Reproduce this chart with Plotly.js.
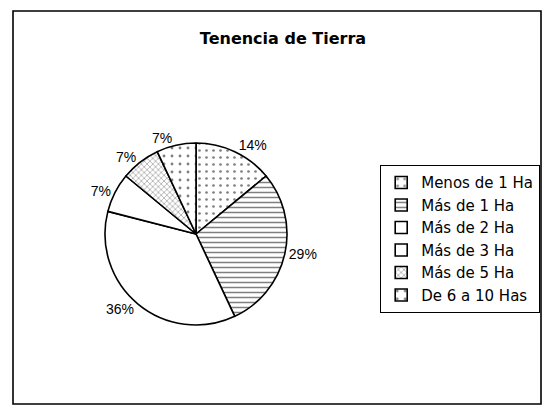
<!DOCTYPE html>
<html>
<head>
<meta charset="utf-8">
<script src="https://cdn.plot.ly/plotly-3.0.1.min.js"></script>
<style>html,body{margin:0;padding:0;background:#fff;}#chart{width:543px;height:406px;}</style>
</head>
<body>
<div id="chart"></div>
<script>
const categories = ["Menos de 1 Ha", "Más de 1 Ha", "Más de 2 Ha", "Más de 3 Ha", "Más de 5 Ha", "De 6 a 10 Has"];
const percentages = [14, 29, 36, 7, 7, 7];
const titleText = "Tenencia de Tierra";

const patternShapes = [".", "-", "", "", "x", "."];
const patternSizes = [7, 5, 8, 8, 4, 8];
const patternSolidity = [0.12, 0.3, 0.2, 0.2, 0.25, 0.1];

const W = 543, H = 406;
const cx = 196, cy = 234, r = 91;

const trace = {
  type: "pie",
  labels: categories,
  values: percentages,
  sort: false,
  direction: "clockwise",
  rotation: 0,
  textinfo: "percent",
  texttemplate: "%{percent:.0%}",
  textposition: "outside",
  outsidetextfont: {family: "Liberation Sans, Arial, sans-serif", size: 14, color: "#000"},
  hoverinfo: "label+percent",
  marker: {
    colors: ["#ffffff", "#ffffff", "#ffffff", "#ffffff", "#ffffff", "#ffffff"],
    line: {color: "#000", width: 1.6},
    pattern: {
      shape: patternShapes,
      size: patternSizes,
      solidity: patternSolidity,
      fgcolor: "#000",
      bgcolor: "#ffffff",
      fillmode: "overlay"
    }
  },
  domain: {
    x: [(cx - r) / W, (cx + r) / W],
    y: [(H - cy - r) / H, (H - cy + r) / H]
  }
};

const layout = {
  width: W,
  height: H,
  margin: {l: 0, r: 0, t: 0, b: 0},
  paper_bgcolor: "#fff",
  plot_bgcolor: "#fff",
  font: {family: "Liberation Sans, Arial, sans-serif", color: "#000"},
  title: {
    text: "<b>" + titleText + "</b>",
    font: {family: "DejaVu Sans, sans-serif", size: 16, color: "#000"},
    x: 283 / W,
    xanchor: "center",
    y: 1 - 38 / H,
    yanchor: "middle",
    xref: "paper",
    yref: "paper"
  },
  showlegend: true,
  legend: {
    x: 380 / W,
    xanchor: "left",
    y: 1 - 239 / H,
    yanchor: "middle",
    bordercolor: "#000",
    borderwidth: 1.2,
    bgcolor: "#fff",
    itemwidth: 30,
    font: {family: "DejaVu Sans, sans-serif", size: 15, color: "#000"}
  },
  shapes: [{
    type: "rect",
    xref: "paper", yref: "paper",
    x0: 13 / W, x1: 541 / W,
    y0: 1 - 404 / H, y1: 1 - 11 / H,
    line: {color: "#000", width: 1.6},
    fillcolor: "rgba(0,0,0,0)"
  }]
};

Plotly.newPlot("chart", [trace], layout, {displayModeBar: false, staticPlot: true});
</script>
</body>
</html>
